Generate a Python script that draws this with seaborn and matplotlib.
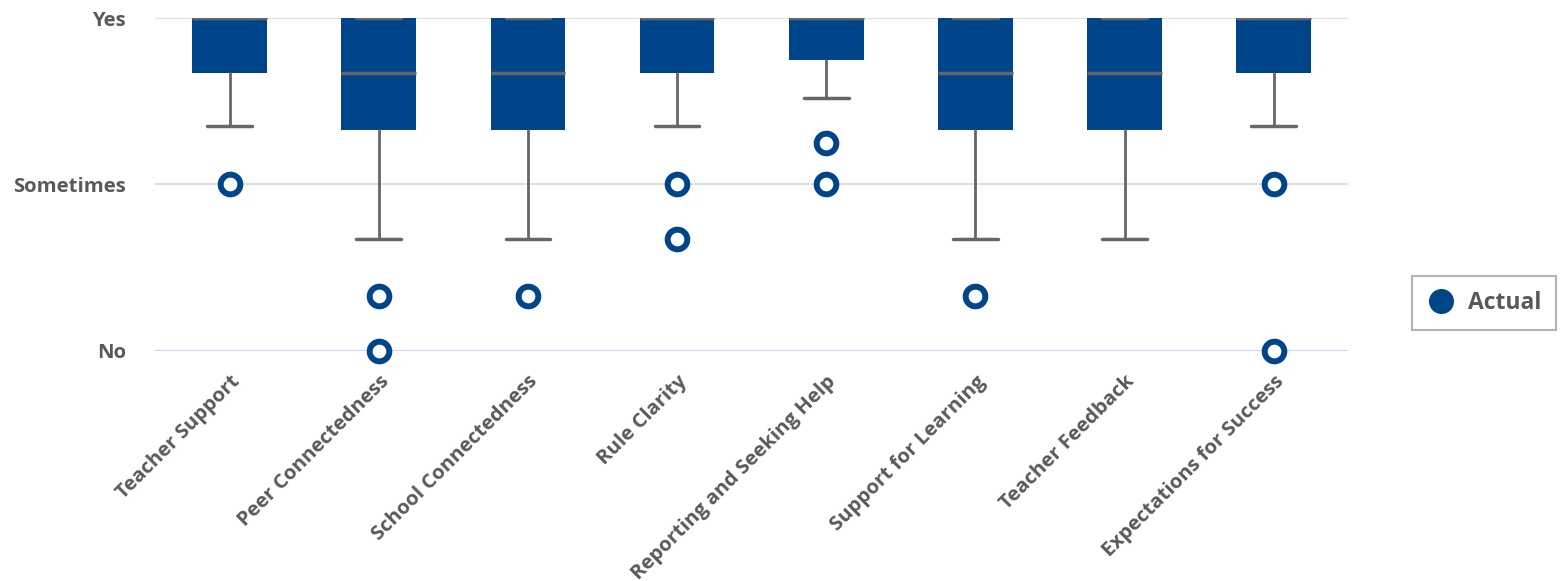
import matplotlib
matplotlib.use("Agg")
import matplotlib.pyplot as plt
from matplotlib.lines import Line2D
import seaborn as sns
import pandas as pd

categories = ["Teacher Support", "Peer Connectedness", "School Connectedness", "Rule Clarity",
              "Reporting and Seeking Help", "Support for Learning", "Teacher Feedback",
              "Expectations for Success"]
q1 = [2.67, 2.33, 2.33, 2.67, 2.75, 2.33, 2.33, 2.67]
medians = [3.0, 2.67, 2.67, 3.0, 3.0, 2.67, 2.67, 3.0]
q3 = [3.0] * 8
whislo = [2.35, 1.67, 1.67, 2.35, 2.52, 1.67, 1.67, 2.35]
whishi = [3.0] * 8
outlier_cats = ["Teacher Support", "Peer Connectedness", "Peer Connectedness", "School Connectedness",
                "Rule Clarity", "Rule Clarity", "Reporting and Seeking Help", "Reporting and Seeking Help",
                "Support for Learning", "Expectations for Success", "Expectations for Success"]
outlier_vals = [2.0, 1.33, 1.0, 1.33, 2.0, 1.67, 2.25, 2.0, 1.33, 2.0, 1.0]
y_ticks = [1, 2, 3]
y_labels = ["No", "Sometimes", "Yes"]

BLUE = "#00448A"
GRAY = "#666666"
TXT = "#595959"

sns.set_theme(style="white")
plt.rcParams['font.family'] = ['Open Sans', 'DejaVu Sans']

fig = plt.figure(figsize=(15.66, 5.81), dpi=100)
ax = fig.add_axes([0.099, 0.396, 0.762, 0.573])

stats = []
for i, c in enumerate(categories):
    stats.append(dict(label=c, q1=q1[i], med=medians[i], q3=q3[i],
                      whislo=whislo[i], whishi=whishi[i], fliers=[]))
pos = list(range(len(categories)))
ax.bxp(stats, positions=pos, widths=0.5, patch_artist=True, showfliers=False,
       boxprops=dict(facecolor=BLUE, edgecolor=BLUE, linewidth=0),
       medianprops=dict(color=GRAY, linewidth=2.5),
       whiskerprops=dict(color=GRAY, linewidth=2),
       capprops=dict(color=GRAY, linewidth=2.5), capwidths=0.3)

df = pd.DataFrame({"cat": [categories.index(c) for c in outlier_cats], "val": outlier_vals})
sns.scatterplot(data=df, x="cat", y="val", ax=ax, marker="o", s=200,
                facecolor="white", edgecolor=BLUE, linewidth=4.3, zorder=5, clip_on=False, legend=False)

ax.set_xlim(-0.5, 7.5)
ax.set_ylim(1, 3)
ax.set_yticks(y_ticks)
ax.set_yticklabels(y_labels, fontsize=14.6, fontweight="bold", color=TXT)
ax.set_xticks(pos)
ax.set_xticklabels(categories, rotation=45, ha="right", rotation_mode="anchor",
                   fontsize=14.6, fontweight="bold", color=TXT)
ax.tick_params(axis="y", length=0, pad=21)
ax.tick_params(axis="x", length=0, pad=15)
ax.set_xlabel("")
ax.set_ylabel("")
for sp in ax.spines.values():
    sp.set_visible(False)
ax.axhline(3, color="#e0e0e0", lw=1.5, zorder=0)
ax.axhline(2, color="#e0e0e0", lw=1.5, zorder=0)
ax.axhline(1, color="#c9d6ec", lw=1.5, zorder=0)

handle = Line2D([], [], marker="o", linestyle="none", markersize=17,
                markerfacecolor=BLUE, markeredgecolor=BLUE)
leg = fig.legend([handle], ["Actual"], loc="center", bbox_to_anchor=(0.9475, 0.479),
                 frameon=True, fancybox=False, edgecolor="#a0a0a0",
                 prop=dict(family=['Open Sans', 'DejaVu Sans'], weight="bold", size=16.5),
                 handletextpad=0.5, borderpad=0.65, handlelength=1.3)
leg.get_frame().set_linewidth(1.5)
for t in leg.get_texts():
    t.set_color(TXT)

fig.savefig("out.png", dpi=100)
